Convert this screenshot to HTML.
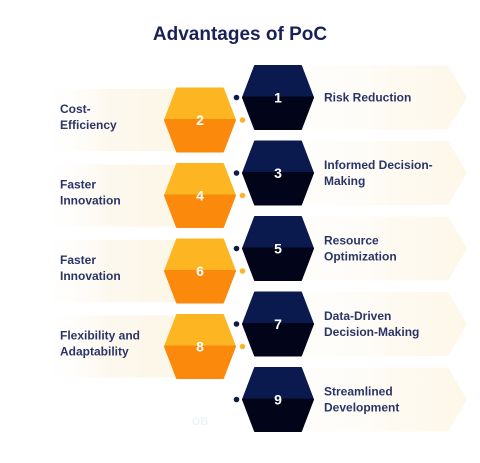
<!DOCTYPE html>
<html><head><meta charset="utf-8">
<style>
html,body{margin:0;padding:0;background:#fff;}
svg{display:block;font-family:"Liberation Sans",sans-serif;}
</style></head>
<body>
<svg width="480" height="463" viewBox="0 0 480 463">
<defs>
<linearGradient id="gr" x1="0" x2="1" y1="0" y2="0"><stop offset="0" stop-color="#fff"/><stop offset="0.5" stop-color="#fefcf7"/><stop offset="1" stop-color="#fdf7e8"/></linearGradient>
<linearGradient id="gl" x1="0" x2="1" y1="0" y2="0"><stop offset="0" stop-color="#fff" stop-opacity="0"/><stop offset="0.45" stop-color="#fdf8ee"/><stop offset="1" stop-color="#fdf6e6"/></linearGradient>
</defs>
<text x="240" y="40" text-anchor="middle" font-size="19" font-weight="bold" fill="#1a2156">Advantages of PoC</text>
<g id="g"></g>
</svg>
<script>
const rightNums=[1,3,5,7,9];
const rightLabels=[["Risk Reduction"],["Informed Decision-","Making"],["Resource","Optimization"],["Data-Driven","Decision-Making"],["Streamlined","Development"]];
const leftNums=[2,4,6,8];
const leftLabels=[["Cost-","Efficiency"],["Faster","Innovation"],["Faster","Innovation"],["Flexibility and","Adaptability"]];
const NS="http://www.w3.org/2000/svg";
const g=document.getElementById('g');
function el(t,a,p){const e=document.createElementNS(NS,t);for(const k in a)e.setAttribute(k,a[k]);(p||g).appendChild(e);return e;}
function hex(cx,cy,top,bot,num,name){
  const grp=el('g',{});
  
  
  const w=35,h=31.5,i=23;
  el('polygon',{points:`${cx-i},${cy-h} ${cx+i},${cy-h} ${cx+w},${cy} ${cx-w},${cy}`,fill:top,'stroke':top,'stroke-width':2,'stroke-linejoin':'round'},grp);
  el('polygon',{points:`${cx-w},${cy} ${cx+w},${cy} ${cx+i},${cy+h} ${cx-i},${cy+h}`,fill:bot,'stroke':bot,'stroke-width':2,'stroke-linejoin':'round'},grp);
  const t=el('text',{x:cx,y:cy+5,'text-anchor':'middle','font-size':14,'font-weight':'bold',fill:'#fff'},grp);t.textContent=num;
}
function label(x,y,lines,name,off){
  const t=el('text',{x:x,'font-size':12,'font-weight':'bold',fill:'#2b3466'});
  
  
  const y0=lines.length==1?y+4:y+off;
  lines.forEach((l,k)=>{const s=el('tspan',{x:x,y:y0+k*16},t);s.textContent=l;});
}
const rowGap=75.5, r0=97.5, l0=120;
leftNums.forEach((n,k)=>{
  const cy=l0+k*rowGap;
  const b=el('rect',{x:35,y:cy-31,width:165,height:62,fill:'url(#gl)'});
  
  
});
rightNums.forEach((n,k)=>{
  const cy=r0+k*rowGap;
  const b=el('polygon',{points:`250,${cy-32} 448,${cy-32} 467,${cy} 448,${cy+32} 250,${cy+32}`,fill:'url(#gr)'});
  
  
});
leftNums.forEach((n,k)=>{
  const cy=l0+k*rowGap;
  hex(200,cy,'#fdb521','#fb8a0c',n,'orange-hexagon-'+n);
  const d=el('circle',{cx:242.5,cy:cy,r:2.8,fill:'#f9b52a'});
  
  
  label(60,cy,leftLabels[k],'left-label-'+n,-7);
});
rightNums.forEach((n,k)=>{
  const cy=r0+k*rowGap;
  hex(278,cy,'#0a1a4f','#02041a',n,'navy-hexagon-'+n);
  const d=el('circle',{cx:236.5,cy:cy,r:2.8,fill:'#0d1a4a'});
  
  
  label(324,cy,rightLabels[k],'right-label-'+n,-4);
});
const f=el('text',{x:200,y:425,'text-anchor':'middle','font-size':11,'font-weight':'bold',fill:'#eef3fb'});


f.textContent='OB';
</script>
</body></html>
